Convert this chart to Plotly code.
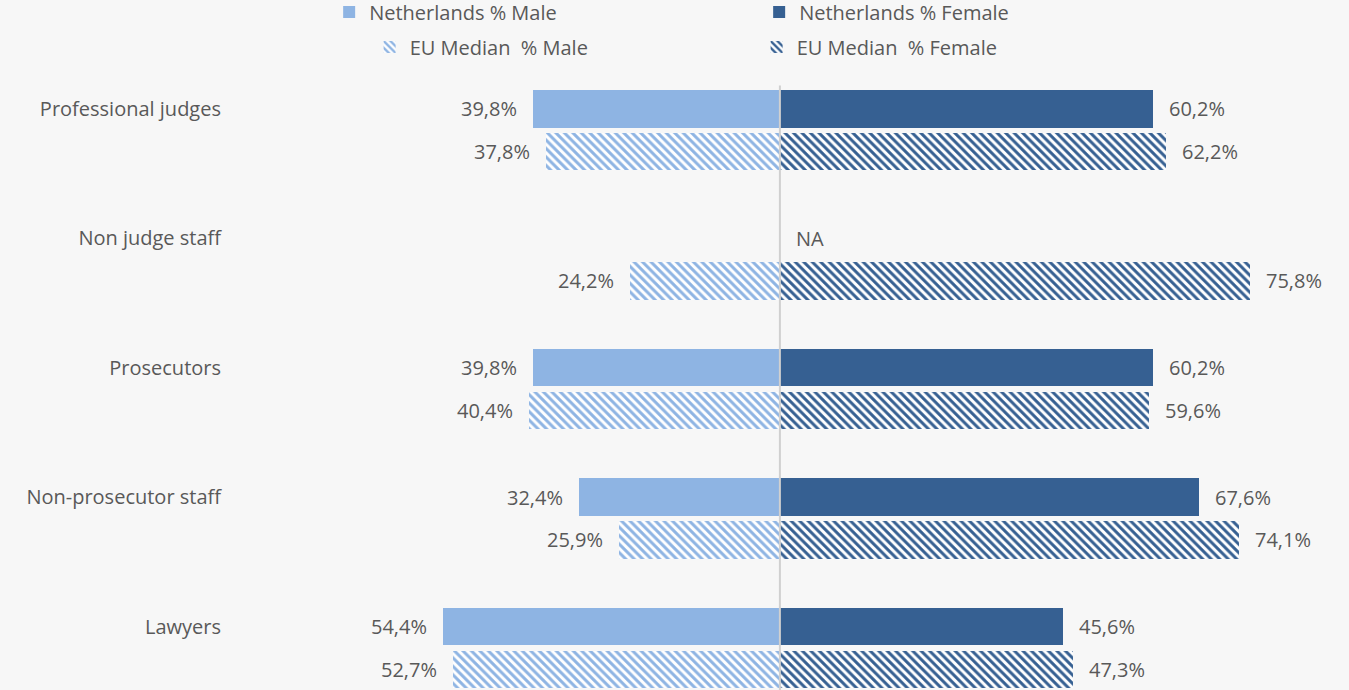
import plotly.graph_objects as go

categories = ["Professional judges", "Non judge staff", "Prosecutors", "Non-prosecutor staff", "Lawyers"]
nl_male = [39.8, None, 39.8, 32.4, 54.4]
nl_female = [60.2, None, 60.2, 67.6, 45.6]
eu_male = [37.8, 24.2, 40.4, 25.9, 52.7]
eu_female = [62.2, 75.8, 59.6, 74.1, 47.3]

LIGHT = "#8EB4E3"
DARK = "#366092"
TXT = "#595959"
BG = "#F7F7F7"
FONT = "Open Sans"
FS = 20

idx = list(range(len(categories)))
eu_off = 0.33
bw = 0.29

def fmt(v):
    return f"{v:.1f}%".replace(".", ",")

fig = go.Figure()
fig.add_trace(go.Bar(
    y=idx, x=[-v if v is not None else None for v in nl_male], orientation="h", width=bw,
    marker=dict(color=LIGHT, line=dict(width=0)), name="Netherlands % Male", legend="legend",
    hoverinfo="skip"))
fig.add_trace(go.Bar(
    y=idx, x=nl_female, orientation="h", width=bw,
    marker=dict(color=DARK, line=dict(width=0)), name="Netherlands % Female", legend="legend",
    hoverinfo="skip"))
fig.add_trace(go.Bar(
    y=[i + eu_off for i in idx], x=[-v for v in eu_male], orientation="h", width=bw,
    marker=dict(color=LIGHT, line=dict(width=0),
                pattern=dict(shape="\\", fgcolor=LIGHT, bgcolor="white", size=6, solidity=0.5, fillmode="replace")),
    name="EU Median  % Male", legend="legend2", hoverinfo="skip"))
fig.add_trace(go.Bar(
    y=[i + eu_off for i in idx], x=eu_female, orientation="h", width=bw,
    marker=dict(color=DARK, line=dict(width=0),
                pattern=dict(shape="\\", fgcolor=DARK, bgcolor="white", size=6, solidity=0.5, fillmode="replace")),
    name="EU Median  % Female", legend="legend2", hoverinfo="skip"))

annots = []
def lab(x, y, text, left):
    annots.append(dict(x=x, y=y, xref="x", yref="y", text=text, showarrow=False,
                       xanchor="right" if left else "left", xshift=-14 if left else 14,
                       font=dict(family=FONT, size=FS, color=TXT)))

for i in idx:
    if nl_male[i] is not None:
        lab(-nl_male[i], i, fmt(nl_male[i]), True)
    if nl_female[i] is not None:
        lab(nl_female[i], i, fmt(nl_female[i]), False)
    else:
        lab(0, i, "NA", False)
    lab(-eu_male[i], i + eu_off, fmt(eu_male[i]), True)
    lab(eu_female[i], i + eu_off, fmt(eu_female[i]), False)

fig.update_layout(
    width=1349, height=690,
    margin=dict(l=230, r=0, t=70, b=0),
    paper_bgcolor=BG, plot_bgcolor=BG,
    barmode="overlay", bargap=0,
    font=dict(family=FONT, size=FS, color=TXT),
    annotations=annots,
    showlegend=True,
    legend=dict(orientation="h", xref="container", yref="container", x=0.244, y=0.9826,
                xanchor="left", yanchor="middle", entrywidth=385, entrywidthmode="pixels",
                bgcolor="rgba(0,0,0,0)", font=dict(family=FONT, size=FS, color=TXT),
                itemclick=False, itemdoubleclick=False),
    legend2=dict(orientation="h", xref="container", yref="container", x=0.274, y=0.9319,
                 xanchor="left", yanchor="middle", entrywidth=342, entrywidthmode="pixels",
                 bgcolor="rgba(0,0,0,0)", font=dict(family=FONT, size=FS, color=TXT),
                 itemclick=False, itemdoubleclick=False),
    shapes=[dict(type="line", xref="x", yref="y", x0=0, x1=0, y0=-0.18, y1=4.49,
                 line=dict(color="#D0D0D0", width=2), layer="above")],
)
fig.update_xaxes(range=[-88.7, 91.8], showgrid=False, zeroline=False, showticklabels=False, fixedrange=True)
fig.update_yaxes(range=[4.49, -0.30], tickvals=idx, ticktext=categories, showgrid=False,
                 zeroline=False, ticks="", ticklabelstandoff=8, fixedrange=True,
                 tickfont=dict(family=FONT, size=FS, color=TXT))

fig.write_html("out.html", config={"displayModeBar": False},
               post_script="document.body.style.margin='0';document.body.style.background='#F7F7F7';")
